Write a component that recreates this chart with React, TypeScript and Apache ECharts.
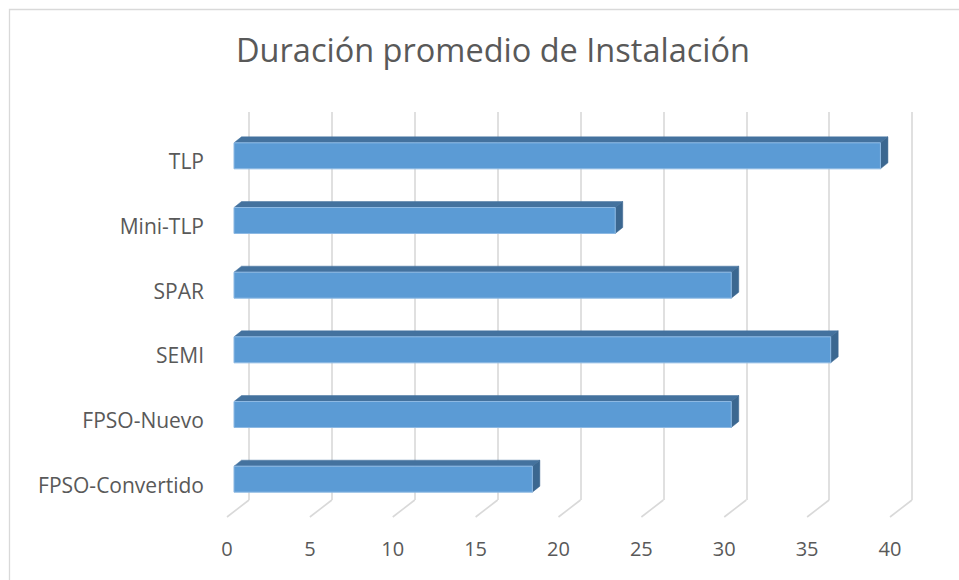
import React, { useEffect, useRef } from 'react';
import * as echarts from 'echarts';

const categories = ['FPSO-Convertido', 'FPSO-Nuevo', 'SEMI', 'SPAR', 'Mini-TLP', 'TLP'];
const durations = [18, 30, 36, 30, 23, 39];
const tickValues = [0, 5, 10, 15, 20, 25, 30, 35, 40];
const chartTitle = 'Duración promedio de Instalación';

export default function App() {
  const ref = useRef<HTMLDivElement>(null);

  useEffect(() => {
    const chart = echarts.init(ref.current!, null, { renderer: 'svg' });
    const FONT = 'Open Sans';
    const TEXT = '#595959';
    const GRIDC = '#D9D9D9';
    // perspective offsets (front plane -> back wall)
    const DEPTH_X = 22;
    const DEPTH_Y = 17;
    // bar placement inside the depth
    const BAR_OX = 7;
    const BAR_OY = 5.5;
    const BAR_DX = 7.5;
    const BAR_DY = 6;

    const option: any = {
      animation: false,
      backgroundColor: '#ffffff',
      title: {
        text: chartTitle,
        left: 488,
        top: 28,
        textAlign: 'center',
        textStyle: { fontFamily: FONT, fontSize: 32.5, fontWeight: 'normal', color: TEXT },
      },
      graphic: [
        {
          type: 'rect',
          silent: true,
          shape: { x: 9.5, y: 9.5, width: 1200, height: 1200 },
          style: { fill: 'none', stroke: GRIDC, lineWidth: 1.3 },
        },
      ],
      grid: [
        { left: 249, top: 112, width: 663, height: 388 },
        { left: 227, top: 129, width: 663, height: 388 },
      ],
      xAxis: [
        {
          type: 'value', gridIndex: 0, min: 0, max: 40, interval: 5,
          axisLine: { show: false }, axisTick: { show: false }, axisLabel: { show: false },
          splitLine: { show: true, lineStyle: { color: GRIDC, width: 1.6 } },
        },
        {
          type: 'value', gridIndex: 1, min: 0, max: 40, interval: 5,
          axisLine: { show: false }, axisTick: { show: false },
          splitLine: { show: false },
          axisLabel: { show: true, color: TEXT, fontFamily: FONT, fontSize: 20, margin: 21 },
        },
      ],
      yAxis: [
        {
          type: 'category', gridIndex: 0, data: categories,
          axisLine: { show: false }, axisTick: { show: false }, axisLabel: { show: false },
          splitLine: { show: false },
        },
        {
          type: 'category', gridIndex: 1, data: categories,
          axisLine: { show: false }, axisTick: { show: false },
          splitLine: { show: false },
          axisLabel: { show: true, color: TEXT, fontFamily: FONT, fontSize: 21, margin: 23 },
        },
      ],
      series: [
        {
          type: 'custom',
          name: 'floor',
          xAxisIndex: 1,
          yAxisIndex: 1,
          silent: true,
          data: tickValues.map((t) => [t, 0]),
          renderItem: (params: any, api: any) => {
            const cs = params.coordSys;
            const x = api.coord([api.value(0), 0])[0];
            const y = cs.y + cs.height;
            return {
              type: 'line',
              shape: { x1: x, y1: y, x2: x + DEPTH_X, y2: y - DEPTH_Y },
              style: { stroke: GRIDC, lineWidth: 1.6 },
            };
          },
        },
        {
          type: 'custom',
          name: 'Duración',
          xAxisIndex: 1,
          yAxisIndex: 1,
          data: durations.map((v, i) => [v, i]),
          renderItem: (params: any, api: any) => {
            const v = api.value(0);
            const idx = api.value(1);
            const p0 = api.coord([0, idx]);
            const p1 = api.coord([v, idx]);
            const band = api.size([0, 1])[1];
            const h = band * 0.402;
            const xl = p0[0] + BAR_OX;
            const xr = p1[0] + BAR_OX;
            const yc = p0[1] - BAR_OY;
            const yt = yc - h / 2;
            const yb = yc + h / 2;
            return {
              type: 'group',
              children: [
                {
                  type: 'polygon',
                  shape: { points: [[xl, yt], [xl + BAR_DX, yt - BAR_DY], [xr + BAR_DX, yt - BAR_DY], [xr, yt]] },
                  style: { fill: '#44729E', stroke: '#44729E', lineWidth: 0.5 },
                },
                {
                  type: 'polygon',
                  shape: { points: [[xr, yt], [xr + BAR_DX, yt - BAR_DY], [xr + BAR_DX, yb - BAR_DY], [xr, yb]] },
                  style: { fill: '#3B6790', stroke: '#3B6790', lineWidth: 0.5 },
                },
                {
                  type: 'rect',
                  shape: { x: xl, y: yt, width: xr - xl, height: h },
                  style: { fill: '#5B9BD5', stroke: '#8DB9E3', lineWidth: 1 },
                },
              ],
            };
          },
        },
      ],
    };

    chart.setOption(option);
    return () => chart.dispose();
  }, []);

  return (
    <div style={{ position: 'fixed', left: 0, top: 0, width: 959, height: 580, background: '#ffffff', overflow: 'hidden' }}>
      <div ref={ref} style={{ width: 959, height: 580 }} />
    </div>
  );
}
